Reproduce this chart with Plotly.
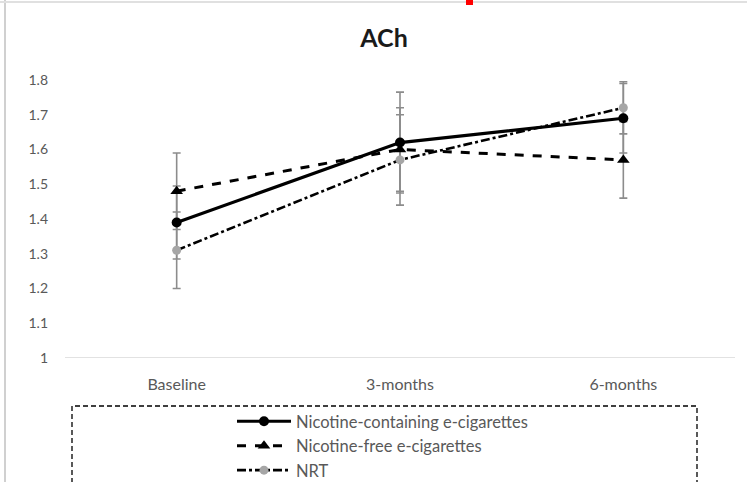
import plotly.graph_objects as go

# Time points and group means for acetylcholine (ACh)
timepoints = ["Baseline", "3-months", "6-months"]
nic_containing = [1.39, 1.62, 1.69]
nic_free = [1.48, 1.60, 1.57]
nrt = [1.31, 1.57, 1.72]

# Error bar half-widths per group
nic_containing_err = [0.105, 0.145, 0.10]
nic_free_err = [0.11, 0.12, 0.11]
nrt_err = [0.11, 0.13, 0.075]

y_ticks = [1, 1.1, 1.2, 1.3, 1.4, 1.5, 1.6, 1.7, 1.8]

FONT = "Lato, 'Open Sans', sans-serif"
TEXT_GREY = "#595959"
ERR_GREY = "#8c8c8c"

fig = go.Figure()

# Error bars first, so that the series lines sit above them
for vals, errs in [(nic_containing, nic_containing_err),
                   (nic_free, nic_free_err),
                   (nrt, nrt_err)]:
    fig.add_trace(go.Scatter(
        x=timepoints, y=vals, mode="markers",
        marker=dict(size=1, color="rgba(0,0,0,0)"),
        error_y=dict(type="data", array=errs, visible=True,
                     color=ERR_GREY, thickness=1.6, width=4),
        showlegend=False, hoverinfo="skip",
    ))

fig.add_trace(go.Scatter(
    x=timepoints, y=nrt, mode="lines+markers", name="NRT",
    line=dict(color="black", width=2.6, dash="dashdot"),
    marker=dict(symbol="circle", size=9, color="#a6a6a6"),
    legendgroup="c", legendrank=3,
))
fig.add_trace(go.Scatter(
    x=timepoints, y=nic_free, mode="lines+markers",
    name="Nicotine-free e-cigarettes",
    line=dict(color="black", width=3, dash="dash"),
    marker=dict(symbol="triangle-up", size=11, color="black"),
    legendgroup="b", legendrank=2,
))
fig.add_trace(go.Scatter(
    x=timepoints, y=nic_containing, mode="lines+markers",
    name="Nicotine-containing e-cigarettes",
    line=dict(color="black", width=3.2),
    marker=dict(symbol="circle", size=10, color="black"),
    legendgroup="a", legendrank=1,
))

fig.update_layout(
    width=747, height=482,
    margin=dict(l=65, r=12, t=80, b=124, autoexpand=False),
    paper_bgcolor="white", plot_bgcolor="white",
    font=dict(family=FONT, color=TEXT_GREY, size=12),
    title=dict(text="<b>ACh</b>", xref="container", x=384 / 747,
               xanchor="center", y=1 - 38 / 482, yanchor="middle",
               font=dict(family=FONT, size=25, color="#1a1a1a")),
    xaxis=dict(
        range=[-0.5, 2.5], showgrid=False, zeroline=False,
        showline=False, ticks="",
        tickfont=dict(size=16, color=TEXT_GREY), ticklabelstandoff=15,
    ),
    yaxis=dict(
        range=[1, 1.8], tickvals=y_ticks,
        ticktext=[f"{v:g}" for v in y_ticks],
        showgrid=False, zeroline=False, showline=False, ticks="",
        tickfont=dict(size=14, color=TEXT_GREY), ticklabelstandoff=16,
    ),
    legend=dict(
        x=(232 - 65) / 670, xanchor="left", y=(358 - 404) / 278,
        yanchor="top",
        orientation="v", traceorder="grouped", tracegroupgap=0,
        font=dict(size=16.5, color=TEXT_GREY),
        bgcolor="rgba(0,0,0,0)", borderwidth=0,
        itemwidth=54,
    ),
    shapes=[
        # category axis baseline
        dict(type="line", xref="paper", yref="y", x0=0, x1=1, y0=1, y1=1,
             line=dict(color="#d9d9d9", width=1.5)),
        # dashed legend frame
        dict(type="rect", xref="paper", yref="paper",
             x0=(72 - 65) / 670, x1=(697 - 65) / 670,
             y0=(358 - 484) / 278, y1=(358 - 406) / 278,
             line=dict(color="#000000", width=1.3, dash="5px,3px")),
        # outer frame edges
        dict(type="line", xref="paper", yref="paper",
             x0=-60 / 670, x1=-60 / 670, y0=-130 / 278, y1=80 / 278 + 1,
             line=dict(color="#d0d0d0", width=2)),
        dict(type="line", xref="paper", yref="paper",
             x0=-65 / 670, x1=1 + 12 / 670, y0=1 + 78 / 278, y1=1 + 78 / 278,
             line=dict(color="#e0e0e0", width=2)),
        dict(type="rect", xref="paper", yref="paper",
             x0=(466 - 65) / 670, x1=(473 - 65) / 670,
             y0=1 + 75 / 278, y1=1 + 80 / 278,
             line=dict(width=0), fillcolor="#ff0000"),
    ],
)

fig.write_html("out.html")
